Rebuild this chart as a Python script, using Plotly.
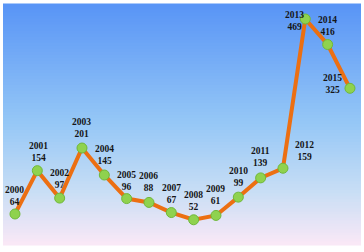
import plotly.graph_objects as go

years = [2000, 2001, 2002, 2003, 2004, 2005, 2006, 2007,
         2008, 2009, 2010, 2011, 2012, 2013, 2014, 2015]
values = [64, 154, 97, 201, 145, 96, 88, 67,
          52, 61, 99, 139, 159, 469, 416, 325]
# label offsets in pixels (dx, dy) relative to each point
label_dx = [0, 1, 0, 0, 0, 0, 0, 0, 0, 0, 0, 0, 22, -11, 0, -17]
label_dy = [18, 19, 19, 20, 20, 18, 20, 19, 19, 20, 20, 21, 17, -2, 19, 4]

fig = go.Figure()

# gradient background (top blue -> light blue -> pink)
stops = [(0.0, (88, 148, 246)), (0.5, (150, 200, 246)), (0.78, (200, 222, 245)), (1.0, (250, 232, 246))]
def col(t):
    for i in range(len(stops) - 1):
        t0, c0 = stops[i]
        t1, c1 = stops[i + 1]
        if t0 <= t <= t1:
            f = (t - t0) / (t1 - t0)
            return "rgb(%d,%d,%d)" % tuple(round(c0[k] + (c1[k] - c0[k]) * f) for k in range(3))
    return "rgb(%d,%d,%d)" % stops[-1][1]

n = 80
shapes = []
for i in range(n):
    t = (i + 0.5) / n
    shapes.append(dict(type="rect", xref="paper", yref="paper",
                       x0=0, x1=1, y0=1 - (i + 1) / n - 0.002, y1=1 - i / n + 0.002,
                       fillcolor=col(t), line=dict(width=0), layer="below"))

fig.add_trace(go.Scatter(
    x=years, y=values, mode="lines+markers",
    line=dict(color="#ec6f12", width=4),
    marker=dict(size=10, color="#8fd24e", line=dict(color="#6fb83a", width=1)),
    hoverinfo="skip",
))

annotations = []
for yr, v, dx, dy in zip(years, values, label_dx, label_dy):
    annotations.append(dict(
        x=yr, y=v, xref="x", yref="y", text=f"{yr}<br>{v}",
        showarrow=False, xshift=dx, yshift=dy,
        xanchor="center", yanchor="middle",
        font=dict(family="Liberation Serif", size=9.5, color="#151515"),
    ))

fig.update_layout(
    width=364, height=252,
    margin=dict(l=3, r=3, t=4, b=7),
    paper_bgcolor="white", plot_bgcolor="rgba(0,0,0,0)",
    shapes=shapes, annotations=annotations,
    showlegend=False,
    xaxis=dict(range=[1999.463, 2015.494], visible=False, fixedrange=True),
    yaxis=dict(range=[-0.4, 500.1], visible=False, fixedrange=True),
)
fig.update_annotations(font_family="Liberation Serif")
for a in fig.layout.annotations:
    a.text = "<b>" + a.text.replace("<br>", "</b><br><b>") + "</b>"

fig.write_html("out.html")
